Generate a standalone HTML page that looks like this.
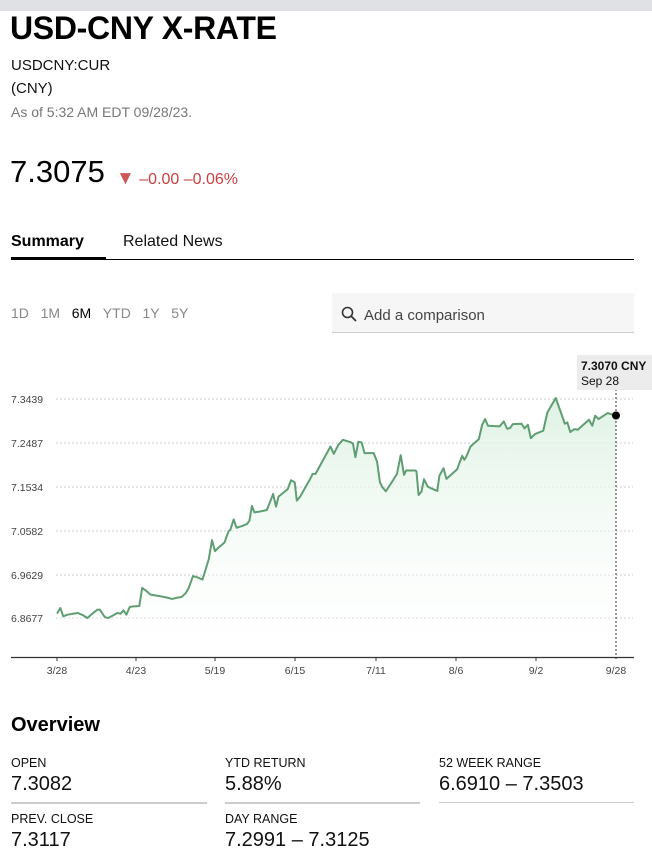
<!DOCTYPE html>
<html><head><meta charset="utf-8"><style>
*{margin:0;padding:0;box-sizing:border-box}
body{width:652px;height:848px;overflow:hidden;background:#fff;font-family:"Liberation Sans",Arial,sans-serif;color:#000;position:relative}
.a{position:absolute;white-space:nowrap}
.lab{font-size:12.5px;color:#111}
.val{font-size:20px;color:#111}
.ln{position:absolute;height:2px;background:#ccc;top:802px}
</style></head><body>
<div class="a" style="left:0;top:0;width:652px;height:11px;background:#e0e1e5"></div>
<div class="a" style="left:10px;top:10px;font-size:32px;font-weight:bold;letter-spacing:-0.3px">USD-CNY X-RATE</div>
<div class="a" style="left:11px;top:57px;font-size:15px;color:#111">USDCNY:CUR</div>
<div class="a" style="left:11px;top:80px;font-size:15px;color:#111">(CNY)</div>
<div class="a" style="left:11px;top:104px;font-size:14px;color:#777">As of 5:32 AM EDT 09/28/23.</div>
<div class="a" style="left:10px;top:154px;font-size:31px;color:#000">7.3075</div>
<div class="a" style="left:116px;top:168px;font-size:16px;color:#c94040"><span style="font-size:19px;color:#d05555">▼</span> <span style="font-size:16px">–0.00 –0.06%</span></div>
<div class="a" style="left:11px;top:233px;font-size:16px;font-weight:bold">Summary</div>
<div class="a" style="left:123px;top:233px;font-size:16px;color:#111">Related News</div>
<div class="a" style="left:11px;top:259px;width:623px;height:1px;background:#000"></div>
<div class="a" style="left:11px;top:257px;width:95px;height:3px;background:#000"></div>
<div class="a" style="left:11px;top:305px;font-size:14px;color:#888;word-spacing:0">1D&nbsp;&nbsp;&nbsp;1M&nbsp;&nbsp;&nbsp;<span style="color:#000">6M</span>&nbsp;&nbsp;&nbsp;YTD&nbsp;&nbsp;&nbsp;1Y&nbsp;&nbsp;&nbsp;5Y</div>
<div class="a" style="left:332px;top:293px;width:302px;height:40px;background:#f6f6f6;border-bottom:1px solid #ccc"></div>
<svg class="a" style="left:341px;top:306px" width="16" height="16"><circle cx="6.5" cy="6.5" r="5" fill="none" stroke="#333" stroke-width="1.6"/><line x1="10" y1="10" x2="15" y2="15" stroke="#333" stroke-width="1.8"/></svg>
<div class="a" style="left:364px;top:307px;font-size:15px;color:#444">Add a comparison</div>

<svg class="a" style="left:0;top:0" width="652" height="700">
<defs><linearGradient id="g" x1="0" y1="0" x2="0" y2="1"><stop offset="0" stop-color="#dff2e4"/><stop offset="1" stop-color="#ffffff" stop-opacity="0.2"/></linearGradient></defs>
<g stroke="#ccc" stroke-dasharray="2,2" stroke-width="1">
<line x1="56" y1="399" x2="633" y2="399"/><line x1="56" y1="443" x2="633" y2="443"/><line x1="56" y1="487" x2="633" y2="487"/><line x1="56" y1="531" x2="633" y2="531"/><line x1="56" y1="575" x2="633" y2="575"/><line x1="56" y1="618" x2="633" y2="618"/>
</g>
<g font-size="10.5" fill="#444" font-family="Liberation Sans,sans-serif">
<text x="11" y="403">7.3439</text><text x="11" y="447">7.2487</text><text x="11" y="491">7.1534</text><text x="11" y="535">7.0582</text><text x="11" y="579">6.9629</text><text x="11" y="622">6.8677</text>
</g>
<g transform="translate(0.9,349.5) scale(0.4156,0.3344)">
<polygon fill="url(#g)" points="135,923 135,790 143,773 150,798 160,793 185,788 198,795 208,803 220,790 232,778 238,778 250,800 258,803 270,795 280,788 288,790 295,780 302,793 310,770 320,768 333,767 340,713 348,720 360,733 380,737 400,742 412,746 425,742 435,740 445,728 452,713 462,678 470,680 485,688 490,668 500,628 508,570 515,603 525,591 538,577 548,543 552,540 560,508 567,533 580,528 592,522 598,512 604,468 610,487 625,484 640,480 655,432 662,470 668,440 690,418 698,391 707,397 712,452 720,440 745,385 750,372 757,372 793,290 801,312 812,285 823,270 843,278 847,281 853,322 860,276 868,278 875,310 897,310 905,335 912,397 918,412 926,424 940,398 953,372 962,316 970,375 975,362 998,362 1000,365 1005,435 1012,425 1018,388 1027,410 1035,415 1050,423 1055,378 1065,355 1072,387 1098,358 1103,340 1110,318 1115,330 1120,320 1130,290 1150,268 1158,225 1165,208 1172,228 1200,230 1210,215 1218,237 1225,235 1232,223 1253,222 1260,236 1268,225 1275,265 1285,253 1305,243 1315,188 1335,145 1357,222 1363,218 1370,247 1380,238 1388,240 1415,210 1423,228 1430,198 1438,208 1460,190 1480,198 1480,923"/>
<polyline fill="none" stroke="#5f9e72" stroke-width="2" vector-effect="non-scaling-stroke" stroke-linejoin="round" points="135,790 143,773 150,798 160,793 185,788 198,795 208,803 220,790 232,778 238,778 250,800 258,803 270,795 280,788 288,790 295,780 302,793 310,770 320,768 333,767 340,713 348,720 360,733 380,737 400,742 412,746 425,742 435,740 445,728 452,713 462,678 470,680 485,688 490,668 500,628 508,570 515,603 525,591 538,577 548,543 552,540 560,508 567,533 580,528 592,522 598,512 604,468 610,487 625,484 640,480 655,432 662,470 668,440 690,418 698,391 707,397 712,452 720,440 745,385 750,372 757,372 793,290 801,312 812,285 823,270 843,278 847,281 853,322 860,276 868,278 875,310 897,310 905,335 912,397 918,412 926,424 940,398 953,372 962,316 970,375 975,362 998,362 1000,365 1005,435 1012,425 1018,388 1027,410 1035,415 1050,423 1055,378 1065,355 1072,387 1098,358 1103,340 1110,318 1115,330 1120,320 1130,290 1150,268 1158,225 1165,208 1172,228 1200,230 1210,215 1218,237 1225,235 1232,223 1253,222 1260,236 1268,225 1275,265 1285,253 1305,243 1315,188 1335,145 1357,222 1363,218 1370,247 1380,238 1388,240 1415,210 1423,228 1430,198 1438,208 1460,190 1480,198"/>
</g>
<line x1="616" y1="389" x2="616" y2="661" stroke="#333" stroke-dasharray="2,2" stroke-width="1"/>
<circle cx="616" cy="415.5" r="4" fill="#000"/>
<line x1="11" y1="657.5" x2="634" y2="657.5" stroke="#333" stroke-width="1.2"/>
<g stroke="#333" stroke-width="1"><line x1="57" y1="657" x2="57" y2="661"/><line x1="136" y1="657" x2="136" y2="661"/><line x1="215" y1="657" x2="215" y2="661"/><line x1="295" y1="657" x2="295" y2="661"/><line x1="376" y1="657" x2="376" y2="661"/><line x1="456" y1="657" x2="456" y2="661"/><line x1="536" y1="657" x2="536" y2="661"/></g>
<g font-size="10.5" fill="#444" text-anchor="middle" font-family="Liberation Sans,sans-serif">
<text x="57" y="674">3/28</text><text x="136" y="674">4/23</text><text x="215" y="674">5/19</text><text x="295" y="674">6/15</text><text x="376" y="674">7/11</text><text x="456" y="674">8/6</text><text x="536" y="674">9/2</text><text x="616" y="674">9/28</text>
</g>
<rect x="577" y="355" width="75" height="35" fill="#ececec"/>
<text x="581" y="370" font-size="12" font-weight="bold" fill="#111" font-family="Liberation Sans,sans-serif">7.3070 CNY</text>
<text x="581" y="385" font-size="12" fill="#111" font-family="Liberation Sans,sans-serif">Sep 28</text>
</svg>

<div class="a" style="left:11px;top:714px;font-size:20px;font-weight:bold">Overview</div>
<div class="a lab" style="left:11px;top:756px">OPEN</div>
<div class="a val" style="left:11px;top:773px">7.3082</div>
<div class="a lab" style="left:225px;top:756px">YTD RETURN</div>
<div class="a val" style="left:225px;top:773px">5.88%</div>
<div class="a lab" style="left:439px;top:756px">52 WEEK RANGE</div>
<div class="a val" style="left:439px;top:773px">6.6910 – 7.3503</div>
<div class="ln" style="left:11px;width:196px"></div>
<div class="ln" style="left:225px;width:195px"></div>
<div class="ln" style="left:439px;width:195px;height:1px"></div>
<div class="a lab" style="left:11px;top:812px">PREV. CLOSE</div>
<div class="a val" style="left:11px;top:829px">7.3117</div>
<div class="a lab" style="left:225px;top:812px">DAY RANGE</div>
<div class="a val" style="left:225px;top:829px">7.2991 – 7.3125</div>
</body></html>
